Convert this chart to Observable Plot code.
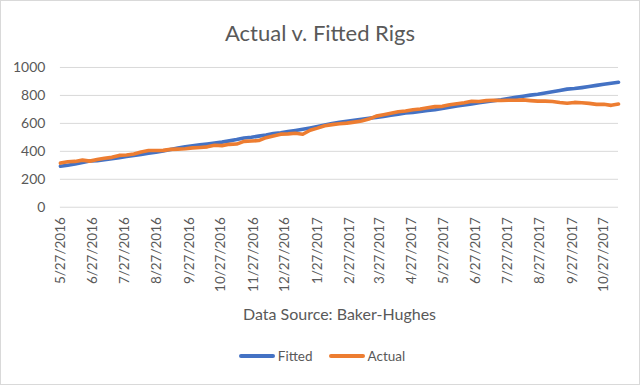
<!DOCTYPE html>
<html>
<head>
<meta charset="utf-8">
<script src="https://cdn.jsdelivr.net/npm/d3@7"></script>
<script src="https://cdn.jsdelivr.net/npm/@observablehq/plot@0.6"></script>
<style>
  body { margin: 0; background: #fff; }
  #chart { position: relative; width: 638px; height: 383px; border: 1px solid #d9d9d9; background: #fff; font-family: Lato, "Open Sans", sans-serif; color: #595959; overflow: hidden; }
  #title { position: absolute; left: 0; top: 18px; width: 638px; text-align: center; font-size: 22px; line-height: 28px; }
  #plot { position: absolute; left: -1px; top: 49px; }
  #source { position: absolute; left: 59px; width: 559px; top: 302px; text-align: center; font-size: 16px; line-height: 22px; }
  #legend { position: absolute; left: 2px; width: 638px; top: 345px; display: flex; justify-content: center; align-items: center; font-size: 13.5px; line-height: 20px; }
  .sw { display: inline-block; width: 36px; height: 4px; border-radius: 2px; margin-right: 3px; }
  .item { display: flex; align-items: center; margin: 0 8px; }
</style>
</head>
<body>
<div id="chart">
  <div id="title">Actual v. Fitted Rigs</div>
  <div id="plot"></div>
  <div id="source">Data Source: Baker-Hughes</div>
  <div id="legend"></div>
</div>
<script>
// Weekly series starting on the first date
const startDate = "2016-05-27";
const weekCount = 77;
const actual = [316,325,328,337,330,341,351,357,371,374,381,396,406,406,407,414,416,418,425,428,432,443,441,450,452,471,474,477,498,510,523,525,529,522,551,566,583,591,597,602,609,617,631,652,662,672,683,688,697,703,712,720,722,733,741,747,758,756,763,765,764,766,765,768,763,759,759,756,749,744,750,748,743,736,737,729,738];
const fitted = [293,301,309,320,331,333,340,348,355,363,371,378,386,393,403,413,423,433,440,446,453,460,466,475,484,495,501,509,517,527,532,541,549,558,567,577,588,599,608,615,623,630,637,643,650,658,666,674,679,685,692,698,707,716,725,731,739,747,755,762,769,778,786,794,802,808,817,826,835,845,849,856,864,872,880,887,894];
const tickLabels = ["5/27/2016","6/27/2016","7/27/2016","8/27/2016","9/27/2016","10/27/2016","11/27/2016","12/27/2016","1/27/2017","2/27/2017","3/27/2017","4/27/2017","5/27/2017","6/27/2017","7/27/2017","8/27/2017","9/27/2017","10/27/2017"];
const yTicks = [0,200,400,600,800,1000];
const seriesNames = ["Fitted","Actual"];
const seriesColors = ["#4472C4","#ED7D31"];

const parseMDY = d3.timeParse("%m/%d/%Y");
const start = d3.timeParse("%Y-%m-%d")(startDate);
const weeks = d3.range(weekCount).map(i => d3.timeWeek.offset(start, i));
const rows = [];
seriesNames.forEach((s, k) => {
  const vals = k === 0 ? fitted : actual;
  weeks.forEach((d, i) => rows.push({date: d, value: vals[i], series: s}));
});
const tickDates = tickLabels.map(t => parseMDY(t));

const plot = Plot.plot({
  width: 640,
  height: 255,
  marginTop: 17,
  marginLeft: 60,
  marginRight: 21,
  marginBottom: 98,
  style: {fontFamily: "Lato, 'Open Sans', sans-serif", fontSize: "13px", color: "#595959", background: "transparent"},
  x: {type: "time", domain: [weeks[0], weeks[weeks.length - 1]]},
  y: {domain: [0, 1000]},
  color: {domain: seriesNames, range: seriesColors},
  marks: [
    Plot.gridY(yTicks, {stroke: "#d9d9d9", strokeOpacity: 1, strokeWidth: 1}),
    Plot.axisY(yTicks, {tickSize: 0, tickPadding: 15, label: null, fontSize: 14, tickFormat: d => String(d)}),
    Plot.axisX(tickDates, {tickSize: 0, tickPadding: 10, tickRotate: -90, label: null, tickFormat: d3.timeFormat("%-m/%-d/%Y"), fontSize: 13.5}),
    Plot.line(rows, {x: "date", y: "value", z: "series", stroke: "series", strokeWidth: 3.6, strokeLinejoin: "round", strokeLinecap: "round"})
  ]
});
document.getElementById("plot").appendChild(plot);

const legend = document.getElementById("legend");
seriesNames.forEach((s, k) => {
  const item = document.createElement("div");
  item.className = "item";
  item.innerHTML = `<span class="sw" style="background:${seriesColors[k]}"></span><span>${s}</span>`;
  legend.appendChild(item);
});
</script>
</body>
</html>
